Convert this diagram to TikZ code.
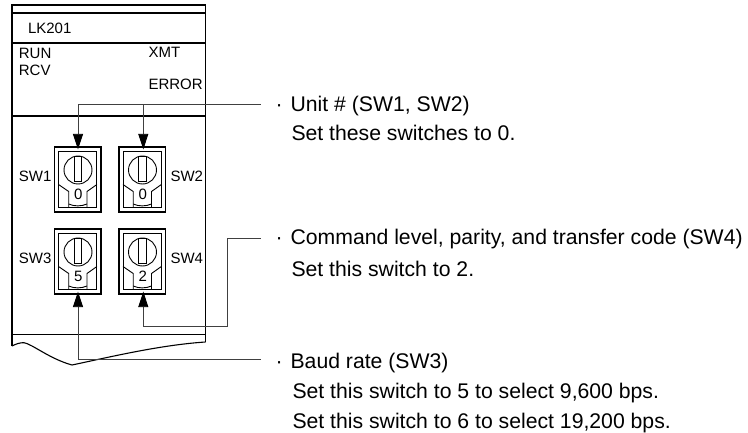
\documentclass[tikz,border=0pt]{standalone}
\usepackage{fontspec}
\setmainfont{Liberation Sans}
\usetikzlibrary{arrows.meta}
\tikzset{
  lbl/.style={inner sep=0pt, font=\fontsize{15}{18}\selectfont, anchor=base west},
  note/.style={inner sep=0pt, font=\fontsize{21.2}{24}\selectfont, anchor=base west},
  swbox/.style={draw, minimum width=46.5pt, minimum height=65pt, inner sep=0pt},
  wire/.style={draw=black!75, line width=0.8pt},
  tip/.style={wire, -{Triangle[length=15.5pt,width=10pt,black]}}
}
\begin{document}
\begin{tikzpicture}[x=1pt,y=-1pt,line width=1.1pt]
\useasboundingbox (0,0) rectangle (748,433);
% module outline
\draw (12,346) -- (12,5) -- (205.5,5) -- (205.5,342);
\draw (12,13) -- (205.5,13);
\draw (12,43) -- (205.5,43);
\draw (12,116) -- (205.5,116);
\draw (12,334.5) -- (205.5,334.5);
\draw (12,346) .. controls (16,344) and (20,342.5) .. (24,342.7) .. controls (32,344) and (50,359) .. (72,365) .. controls (110,357) and (160,345) .. (205.5,342);
% labels on the module
\node[lbl] (lk) at (27.5,33.5) {LK201};
\node[lbl] (run) at (18.3,58.5) {RUN};
\node[lbl] (rcv) at (18.3,76) {RCV};
\node[lbl] (xmt) at (148,58) {XMT};
\node[lbl] (err) at (148,90) {ERROR};
\node[lbl] (t1) at (18.3,182) {SW1};
\node[lbl] (t2) at (170,182) {SW2};
\node[lbl] (t3) at (18.3,264) {SW3};
\node[lbl] (t4) at (170,264) {SW4};
% switches
\foreach \nm/\cx/\cy/\val in {sw1/77.7/179.5/0,sw2/142.2/179.5/0,sw3/77.7/261.5/5,sw4/142.2/261.5/2}{
  \node[swbox] (\nm) at (\cx,\cy) {};
  \begin{scope}[shift={(\cx,\cy)},line width=0.9pt]
    \draw (-19.2,-28) rectangle (19.2,28);
    \draw (0.3,-9.5) circle (14);
    \draw (-3.5,-23.5) rectangle (4,1.5);
    \draw (-19.2,5) -- (-9,12) -- (-9,28);
    \draw (19.2,5) -- (9.3,12) -- (9.3,28);
    \draw (-9,24.5) .. controls (-4,27) and (4,27) .. (9.3,24.5);
    \node[lbl, anchor=center] (\nm v) at (0.5,15) {\val};
  \end{scope}
}
% texts
\node[note] (a1) at (275,112) {·\hspace{8pt}Unit \# (SW1, SW2)};
\node[note] (a2) at (291,141) {Set these switches to 0.};
\node[note] (b1) at (275,245) {·\hspace{8pt}Command level, parity, and transfer code (SW4)};
\node[note] (b2) at (291,276.5) {Set this switch to 2.};
\node[note] (c1) at (275,368) {·\hspace{8pt}Baud rate (SW3)};
\node[note] (c2) at (292,398) {Set this switch to 5 to select 9,600 bps.};
\node[note] (c3) at (292,428) {Set this switch to 6 to select 19,200 bps.};
% connectors
\coordinate (ja) at (260.5,104.5);
\coordinate (jb) at (260.5,238.5);
\coordinate (jc) at (260.5,359);
\coordinate (jd) at (143.3,104.5);
\coordinate (je) at (227.5,238.5);
\coordinate (jf) at (227.5,326);
\draw[tip] (ja) -- (78,104.5) -- ([yshift=-3pt,xshift=0.3pt]sw1.north);
\draw[tip] (jd) -- ([yshift=-3pt,xshift=1.1pt]sw2.north);
\draw[tip] (jb) -- (je) -- (jf) -- (143.3,326) -- ([yshift=3pt,xshift=1.1pt]sw4.south);
\draw[tip] (jc) -- (78,359) -- ([yshift=3pt,xshift=0.3pt]sw3.south);
\end{tikzpicture}
\end{document}
